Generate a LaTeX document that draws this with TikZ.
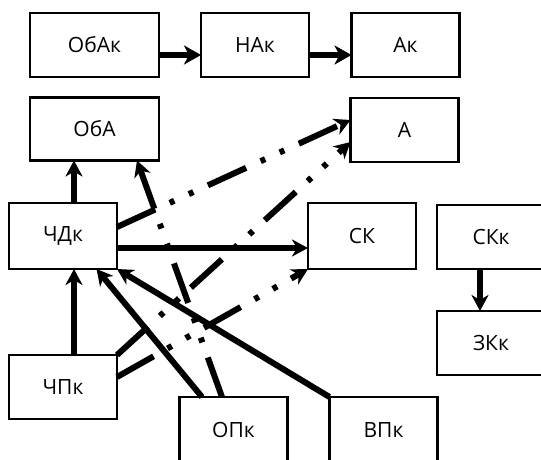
\documentclass[tikz,border=0pt]{standalone}
\usepackage{fontspec}
\setmainfont{Open Sans}
\usetikzlibrary{arrows.meta}
\begin{document}
\begin{tikzpicture}[x=1pt,y=-1pt,
  box/.style={draw, line width=2.8pt, rectangle, inner sep=0pt, outer sep=0pt,
    minimum width=108pt, minimum height=64pt, font=\fontsize{21}{24}\selectfont},
  widebox/.style={box, minimum width=129pt},
  tip/.style={-{Stealth[length=16pt,width=17pt,inset=5pt]}},
  bigtip/.style={-{Stealth[length=17pt,width=19pt,inset=5pt]}},
  conn/.style={line width=6pt, tip},
  dashdotdot/.style={line width=6pt, tip,
    dash pattern=on 42pt off 16pt on 5pt off 16pt on 5pt off 16pt}]
\useasboundingbox (0,0) rectangle (541,460);
\begin{scope}
\clip (0,0) rectangle (541,460);
\node[widebox] (obak) at (94.5,45) {ОбАк};
\node[box] (nak) at (255,45) {НАк};
\node[box] (ak) at (405.5,45) {Ак};
\node[widebox, minimum height=63pt] (oba) at (94.5,129) {ОбА};
\node[box] (a) at (404.5,130) {А};
\node[box, minimum height=66pt] (chdk) at (63,236) {ЧДк};
\node[box, minimum height=66pt] (sk) at (362,236) {СК};
\node[box] (skk) at (491,237) {СКк};
\node[box] (zkk) at (491,343) {ЗКк};
\node[box] (chpk) at (63,387) {ЧПк};
\node[box, minimum height=66pt] (opk) at (233.5,430) {ОПк};
\node[box, minimum height=66pt] (vpk) at (383.5,430) {ВПк};
\end{scope}
% solid connectors
\draw[line width=6.5pt, bigtip] ([yshift=-10pt]obak.east) -- ([yshift=-10pt]nak.west);
\draw[line width=6.5pt, bigtip] ([yshift=-10pt]nak.east) -- ([yshift=-10pt]ak.west);
\draw[conn] ([xshift=11pt]chdk.north) -- ([xshift=-20.5pt]oba.south);
\draw[conn] ([xshift=11pt]chpk.north) -- ([xshift=11pt]chdk.south);
\draw[conn] ([yshift=-12pt]chdk.east) -- ([yshift=-12pt]sk.west);
\draw[conn] ([xshift=-11pt]skk.south) -- ([xshift=-11pt]zkk.north);
\draw[conn] ([xshift=-31.5pt]opk.north) -- ([xshift=33.5pt]chdk.south);
\draw[conn] (vpk.north west) -- (chdk.south east);
% dash-dot-dot connectors
\draw[dashdotdot] ([yshift=9pt]chdk.east) -- ([yshift=10pt]a.west);
\draw[dashdotdot] (chpk.north east) -- ([yshift=-12pt]a.west);
\draw[dashdotdot] ([yshift=10pt]chpk.east) -- (sk.south west);
\draw[dashdotdot] ([xshift=-11.5pt]opk.north) -- ([xshift=42.5pt]oba.south);
\end{tikzpicture}
\end{document}
